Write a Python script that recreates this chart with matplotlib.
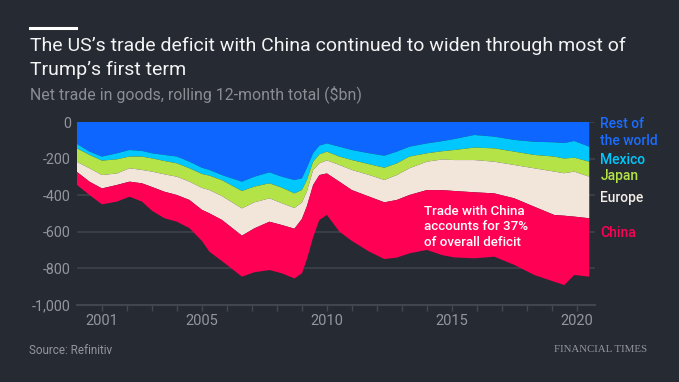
import matplotlib.pyplot as plt
from matplotlib.ticker import FixedLocator, FuncFormatter

# rolling 12-month net trade in goods, $bn
years = [2000.0, 2000.5, 2001.0, 2001.6, 2002.1, 2002.6, 2003.0, 2003.5, 2004.0, 2004.5,
         2005.0, 2005.3, 2005.8, 2006.6, 2007.1, 2007.7, 2008.2, 2008.7, 2009.0, 2009.2,
         2009.45, 2009.7, 2010.0, 2010.5, 2011.0, 2011.7, 2012.3, 2012.8, 2013.3, 2014.0,
         2014.6, 2015.1, 2015.9, 2016.7, 2017.5, 2018.3, 2019.1, 2019.5, 2019.9, 2020.5]

rest_of_world = [-120, -162, -189, -171, -153, -158, -171, -180, -189, -217,
                 -250, -262, -290, -326, -299, -275, -299, -317, -308, -250,
                 -170, -129, -117, -135, -153, -171, -184, -162, -135, -117,
                 -105, -93, -71, -80, -98, -108, -111, -115, -104, -135]
mexico = [-24, -18, -22, -33, -36, -31, -28, -33, -37, -36,
          -34, -31, -28, -51, -54, -60, -60, -73, -64, -67,
          -47, -48, -45, -54, -55, -60, -66, -64, -54, -54,
          -55, -60, -69, -64, -64, -72, -78, -85, -91, -82]
japan = [-74, -73, -79, -77, -64, -73, -72, -73, -73, -73,
         -76, -79, -87, -95, -86, -82, -85, -80, -68, -63,
         -45, -49, -48, -46, -54, -59, -67, -64, -64, -46,
         -45, -55, -68, -73, -73, -73, -82, -80, -76, -82]
europe = [-55, -73, -73, -63, -73, -73, -84, -95, -100, -100,
          -120, -127, -130, -149, -142, -128, -119, -113, -90, -80,
          -82, -64, -71, -91, -110, -118, -122, -136, -146, -155,
          -167, -169, -176, -173, -182, -210, -237, -232, -246, -227]
china = [-71, -73, -87, -91, -82, -100, -130, -145, -146, -154,
         -170, -210, -225, -224, -240, -264, -264, -272, -297, -290,
         -286, -245, -227, -273, -278, -301, -310, -315, -319, -327,
         -355, -363, -361, -346, -364, -373, -365, -379, -319, -319]

labels = ['Rest of\nthe world', 'Mexico', 'Japan', 'Europe', 'China']
label_y = [-57, -208, -295, -414, -607]
colors = ['#0d66ff', '#00c8ff', '#b3e346', '#f2e5da', '#ff0055']
label_colors = ['#1a6dff', '#00c8ff', '#b3e346', '#f2ede6', '#ff0055']

bg = '#262a33'
grid = '#3c4049'
grey = '#93969d'

plt.rcParams['font.family'] = ['Roboto', 'DejaVu Sans']

fig = plt.figure(figsize=(6.79, 3.82), dpi=100)
fig.patch.set_facecolor(bg)
ax = fig.add_axes([77 / 679, 1 - 305 / 382, 518 / 679, 183 / 382])
ax.set_facecolor(bg)

ax.stackplot(years, rest_of_world, mexico, japan, europe, china,
             colors=colors, linewidth=0, zorder=3)

ax.set_xlim(2000.0, 2020.73)
ax.set_ylim(-1000, 0)

ax.yaxis.set_major_locator(FixedLocator([0, -200, -400, -600, -800, -1000]))
ax.yaxis.set_major_formatter(FuncFormatter(lambda v, p: f'{v:,.0f}'))
ax.xaxis.set_major_locator(FixedLocator(list(range(2001, 2021))))
ax.xaxis.set_major_formatter(FuncFormatter(
    lambda v, p: str(int(round(v))) if int(round(v)) in (2001, 2005, 2010, 2015, 2020) else ''))

ax.grid(axis='y', color=grid, linewidth=1.3, zorder=1)
for s in ['top', 'right', 'left']:
    ax.spines[s].set_visible(False)
ax.spines['bottom'].set_color('#444851')
ax.spines['bottom'].set_linewidth(1.3)
ax.tick_params(axis='y', length=0, pad=4.5, labelsize=10.3, labelcolor=grey)
ax.tick_params(axis='x', length=4, width=1, color='#444851', pad=2.5, labelsize=10.5, labelcolor=grey)

for lab, yv, c in zip(labels, label_y, label_colors):
    ax.text(2020.95, yv, lab, color=c, fontsize=10, fontweight='medium',
            va='center', ha='left', linespacing=1.2, clip_on=False)

ax.text(2013.9, -572, 'Trade with China\naccounts for 37%\nof overall deficit',
        color='white', fontsize=9.6, fontweight='medium', va='center', ha='left',
        linespacing=1.25, zorder=5)

# header
fig.add_artist(plt.Line2D([30 / 679, 76 / 679], [1 - 28 / 382] * 2, color='white', linewidth=2.2))
fig.text(30 / 679, 1 - 46 / 382, 'The US’s trade deficit with China continued to widen through most of',
         color='#f4f4f4', fontsize=14, va='center', ha='left')
fig.text(30 / 679, 1 - 70 / 382, 'Trump’s first term',
         color='#f4f4f4', fontsize=14, va='center', ha='left')
fig.text(30 / 679, 1 - 94 / 382, 'Net trade in goods, rolling 12-month total ($bn)',
         color='#8a8d94', fontsize=11.4, va='center', ha='left')

fig.text(29 / 679, 1 - 351 / 382, 'Source: Refinitiv', color=grey, fontsize=8.4,
         va='center', ha='left')
fig.text(647 / 679, 1 - 349 / 382, 'FINANCIAL TIMES', color=grey, fontsize=7.8,
         family='Liberation Serif', va='center', ha='right')

fig.savefig('out.png', dpi=100, facecolor=bg)
